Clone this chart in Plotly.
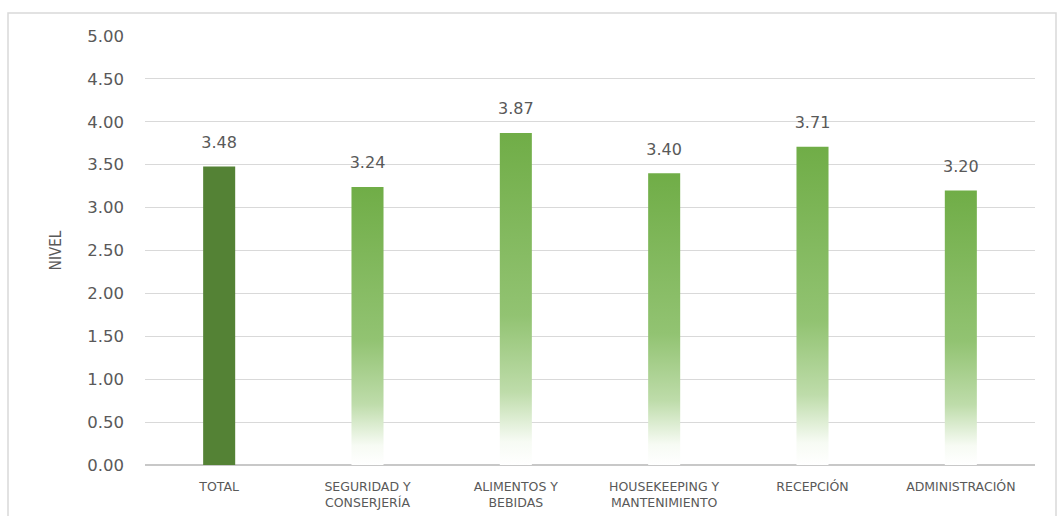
import plotly.graph_objects as go

categories = ["TOTAL", "SEGURIDAD Y<br>CONSERJERÍA", "ALIMENTOS Y<br>BEBIDAS",
              "HOUSEKEEPING Y<br>MANTENIMIENTO", "RECEPCIÓN", "ADMINISTRACIÓN"]
values = [3.48, 3.24, 3.87, 3.40, 3.71, 3.20]
value_labels = ["3.48", "3.24", "3.87", "3.40", "3.71", "3.20"]
y_ticks = [0, 0.5, 1.0, 1.5, 2.0, 2.5, 3.0, 3.5, 4.0, 4.5, 5.0]

FONT = "DejaVu Sans, Open Sans, sans-serif"
TXT = "#595959"
DARK = "#548235"
GREEN = "#70ad47"
HALF = 0.108

fig = go.Figure()

for i, (cat, v) in enumerate(zip(categories, values)):
    xs = [i - HALF, i + HALF, i + HALF, i - HALF, i - HALF]
    ys = [0, 0, v, v, 0]
    if i == 0:
        fig.add_trace(go.Scatter(x=xs, y=ys, mode="lines", fill="toself",
                                 fillcolor=DARK, line=dict(width=0),
                                 hoverinfo="skip", showlegend=False))
    else:
        fig.add_trace(go.Scatter(x=xs, y=ys, mode="lines", fill="toself",
                                 line=dict(width=0),
                                 fillgradient=dict(type="vertical",
                                                   colorscale=[[0, "#ffffff"], [0.07, "#f7fbf4"],
                                                               [0.22, "#bedcaa"], [0.45, "#92c372"],
                                                               [1, GREEN]]),
                                 hoverinfo="skip", showlegend=False))

fig.add_trace(go.Scatter(x=list(range(len(values))), y=values, mode="markers+text",
                         text=value_labels, textposition="top center",
                         marker=dict(size=22, opacity=0),
                         textfont=dict(family=FONT, size=16, color=TXT),
                         showlegend=False, hoverinfo="skip"))

# chart border
fig.add_shape(type="rect", xref="paper", yref="paper",
              x0=(8 - 145) / 890, x1=(1056 - 145) / 890,
              y0=(465 - 530) / 429, y1=(465 - 13) / 429,
              line=dict(color="#d9d9d9", width=1.5), fillcolor="rgba(0,0,0,0)", layer="below")

fig.update_layout(
    width=1060, height=516,
    margin=dict(l=145, r=25, t=36, b=51),
    paper_bgcolor="white", plot_bgcolor="white",
    font=dict(family=FONT, color=TXT),
    xaxis=dict(range=[-0.5, len(values) - 0.5], tickvals=list(range(len(values))),
               ticktext=categories, tickfont=dict(size=12.5, color=TXT),
               showgrid=False, zeroline=False, showline=False, ticks="",
               ticklabelstandoff=12, fixedrange=True, automargin=False),
    yaxis=dict(range=[0, 5], tickvals=y_ticks, tickformat=".2f",
               tickfont=dict(size=16.5, color=TXT),
               gridcolor="#d9d9d9", gridwidth=1,
               zeroline=True, zerolinecolor="#c8c8c8", zerolinewidth=1.5,
               showline=False, ticks="", ticklabelstandoff=20, automargin=False,
               title=dict(text="NIVEL", font=dict(size=15, color=TXT, family="DejaVu Sans Condensed, " + FONT),
                          standoff=22)),
)

fig.write_html("out.html")
